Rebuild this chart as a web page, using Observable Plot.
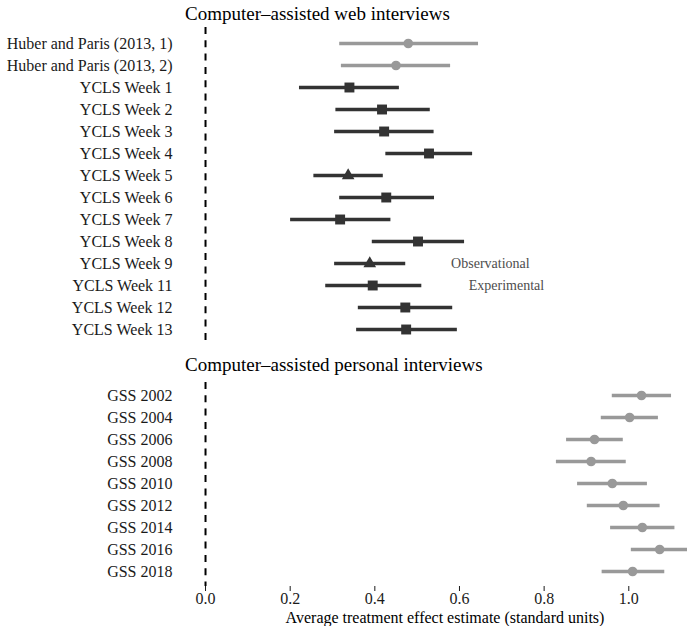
<!DOCTYPE html>
<html>
<head>
<meta charset="utf-8">
<script src="https://cdn.jsdelivr.net/npm/d3@7"></script>
<script src="https://cdn.jsdelivr.net/npm/@observablehq/plot@0.6"></script>
<style>
  html, body { margin: 0; padding: 0; background: #fff; }
  #wrap { position: relative; width: 687px; height: 626px; overflow: hidden; font-family: "Liberation Serif", "Times New Roman", serif; }
  .title { position: absolute; left: 185px; font-size: 19px; line-height: 19px; color: #000; white-space: nowrap; }
  .xlabel { position: absolute; font-size: 16px; line-height: 10px; color: #000; white-space: nowrap; transform: translateX(-50%); }
  .panel { position: absolute; left: 0; }
</style>
</head>
<body>
<div id="wrap">
  <div class="title" id="t1" style="top:3.6px">Computer–assisted web interviews</div>
  <div class="panel" id="p1" style="top:26px"></div>
  <div class="title" id="t2" style="top:355px">Computer–assisted personal interviews</div>
  <div class="panel" id="p2" style="top:380px"></div>
  <div class="xlabel" id="xl" style="top:612.5px;left:445px">Average treatment effect estimate (standard units)</div>
</div>
<script>
// ---- Data: computer-assisted web interviews ----
const webLabels = ["Huber and Paris (2013, 1)", "Huber and Paris (2013, 2)", "YCLS Week 1", "YCLS Week 2", "YCLS Week 3", "YCLS Week 4", "YCLS Week 5", "YCLS Week 6", "YCLS Week 7", "YCLS Week 8", "YCLS Week 9", "YCLS Week 11", "YCLS Week 12", "YCLS Week 13"];
const webEst = [0.479, 0.450, 0.340, 0.417, 0.422, 0.528, 0.337, 0.427, 0.318, 0.502, 0.388, 0.395, 0.472, 0.474];
const webLo  = [0.317, 0.321, 0.222, 0.308, 0.305, 0.426, 0.256, 0.317, 0.201, 0.394, 0.305, 0.284, 0.361, 0.357];
const webHi  = [0.645, 0.579, 0.458, 0.531, 0.540, 0.631, 0.420, 0.541, 0.438, 0.612, 0.473, 0.511, 0.584, 0.595];
const webType = ["Other", "Other", "Experimental", "Experimental", "Experimental", "Experimental", "Observational", "Experimental", "Experimental", "Experimental", "Observational", "Experimental", "Experimental", "Experimental"];

// ---- Data: computer-assisted personal interviews ----
const gssLabels = ["GSS 2002", "GSS 2004", "GSS 2006", "GSS 2008", "GSS 2010", "GSS 2012", "GSS 2014", "GSS 2016", "GSS 2018"];
const gssEst = [1.030, 1.002, 0.919, 0.911, 0.961, 0.987, 1.032, 1.073, 1.009];
const gssLo  = [0.961, 0.935, 0.853, 0.829, 0.879, 0.902, 0.957, 1.006, 0.937];
const gssHi  = [1.101, 1.070, 0.987, 0.994, 1.044, 1.074, 1.109, 1.150, 1.085];

// ---- Legend annotations ----
const legendText = ["Observational", "Experimental"];
const legendX = [0.673, 0.711];
const legendRow = ["YCLS Week 9", "YCLS Week 11"];

const xTicks = [0, 0.2, 0.4, 0.6, 0.8, 1.0];
const xDomain = [-0.0473, 1.1387];

const colors = {Other: "#999999", Experimental: "#333333", Observational: "#333333"};

const web = webLabels.map((label, i) => ({label, est: webEst[i], lo: webLo[i], hi: webHi[i], type: webType[i]}));
const gss = gssLabels.map((label, i) => ({label, est: gssEst[i], lo: gssLo[i], hi: gssHi[i], type: "Other"}));
const legend = legendText.map((text, i) => ({text, x: legendX[i], y: legendRow[i]}));

const font = "\"Liberation Serif\", \"Times New Roman\", serif";

function marksFor(data) {
  return [
    Plot.ruleX([0], {stroke: "#000", strokeWidth: 2, strokeDasharray: "7,6.3"}),
    Plot.ruleY(data, {y: "label", x1: "lo", x2: "hi", stroke: d => colors[d.type], strokeWidth: 3.5, clip: true}),
    Plot.dot(data.filter(d => d.type === "Other"), {x: "est", y: "label", symbol: "circle", r: 4.8, fill: colors.Other, stroke: "none"}),
    Plot.dot(data.filter(d => d.type === "Experimental"), {x: "est", y: "label", symbol: "square", r: 5.6, fill: colors.Experimental, stroke: "none"}),
    Plot.dot(data.filter(d => d.type === "Observational"), {x: "est", y: "label", symbol: "triangle", r: 4.7, fill: colors.Observational, stroke: "none"})
  ];
}

const p1 = Plot.plot({
  width: 687,
  height: 317,
  marginLeft: 185,
  marginRight: 0,
  marginTop: 1,
  marginBottom: 0,
  insetTop: 3,
  insetBottom: 1,
  style: {fontFamily: font, fontSize: "16px", color: "#1a1a1a", background: "transparent", overflow: "visible"},
  x: {domain: xDomain, axis: null},
  y: {domain: webLabels, tickSize: 0, tickPadding: 13, label: null},
  marks: [
    ...marksFor(web),
    Plot.text(legend, {x: "x", y: "y", text: "text", fill: "#4d4d4d", fontSize: 14, textAnchor: "middle"})
  ]
});
document.getElementById("p1").appendChild(p1);

const p2 = Plot.plot({
  width: 687,
  height: 230,
  marginLeft: 185,
  marginRight: 0,
  marginTop: 2,
  marginBottom: 24,
  insetBottom: 2.4,
  style: {fontFamily: font, fontSize: "16px", color: "#1a1a1a", background: "transparent", overflow: "visible"},
  x: {domain: xDomain, ticks: xTicks, tickFormat: d3.format(".1f"), tickSize: 5, tickPadding: 1, label: null},
  y: {domain: gssLabels, tickSize: 0, tickPadding: 13, label: null},
  marks: marksFor(gss)
});
document.getElementById("p2").appendChild(p2);
</script>
</body>
</html>
